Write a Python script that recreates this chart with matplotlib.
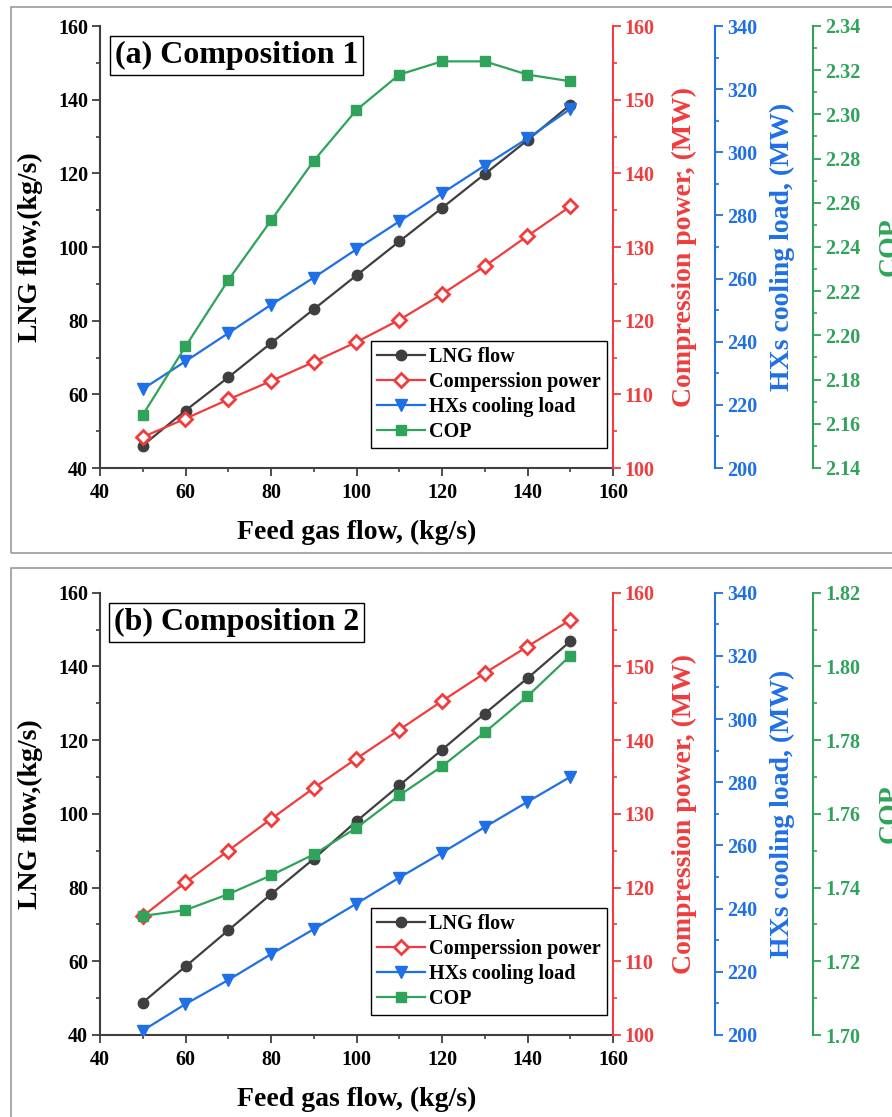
import matplotlib
matplotlib.use('Agg')
import matplotlib.pyplot as plt
from matplotlib.ticker import MultipleLocator, FormatStrFormatter
from matplotlib.patches import Rectangle

plt.rcParams['font.family'] = ['Liberation Serif', 'DejaVu Serif']
plt.rcParams['font.weight'] = 'bold'
plt.rcParams['axes.labelweight'] = 'bold'

# ---------------- data ----------------
feed = [50, 60, 70, 80, 90, 100, 110, 120, 130, 140, 150]

lng_a = [46.1, 55.6, 64.6, 73.9, 83.1, 92.3, 101.5, 110.6, 119.8, 129.0, 138.6]
power_a = [104.2, 106.7, 109.3, 111.8, 114.4, 117.1, 120.1, 123.6, 127.4, 131.5, 135.5]
hx_a = [225.0, 233.8, 242.7, 251.7, 260.3, 269.3, 278.1, 287.0, 295.8, 304.4, 313.7]
cop_a = [2.164, 2.195, 2.225, 2.252, 2.279, 2.302, 2.318, 2.324, 2.324, 2.318, 2.315]

lng_b = [48.8, 58.6, 68.4, 78.2, 87.8, 98.0, 107.7, 117.4, 127.2, 136.8, 146.8]
power_b = [116.1, 120.7, 125.0, 129.3, 133.5, 137.5, 141.4, 145.3, 149.1, 152.7, 156.3]
hx_b = [201.4, 209.8, 217.4, 225.6, 233.5, 241.6, 249.8, 257.7, 265.8, 273.8, 281.7]
cop_b = [1.7323, 1.7339, 1.7382, 1.7433, 1.749, 1.7562, 1.765, 1.7729, 1.7821, 1.7919, 1.8029]

titles = ['(a) Composition 1', '(b) Composition 2']
series_labels = ['LNG flow', 'Comperssion power', 'HXs cooling load', 'COP']
x_label = 'Feed gas flow, (kg/s)'
y_labels = ['LNG flow,(kg/s)', 'Compression power, (MW)', 'HXs cooling load, (MW)', 'COP']
cop_limits = [(2.14, 2.34), (1.70, 1.82)]

# ---------------- style ----------------
W, H = 892, 1117
GRAY = '#3f3f3f'
RED = '#f03c3c'
BLUE = '#1f6fe6'
GREEN = '#2fa35a'
TICK_FS = 14.5
LABEL_FS = 20

fig = plt.figure(figsize=(W / 100, H / 100), dpi=100)


def fx(px):
    return px / W


def fy(py):
    return 1 - py / H


# outer panel frames
for (top, bot) in [(7.3, 552.7), (567.7, 1140)]:
    fig.patches.append(Rectangle((fx(10.7), fy(bot)), 1.2, (bot - top) / H,
                                 transform=fig.transFigure, fill=False,
                                 ec='#9a9a9a', lw=1.2, zorder=0))

panel_data = [
    (lng_a, power_a, hx_a, cop_a),
    (lng_b, power_b, hx_b, cop_b),
]
panel_pos = [(26, 468), (592.7, 1035)]

for i, ((lng, power, hx, cop), (top, bot)) in enumerate(zip(panel_data, panel_pos)):
    ax = fig.add_axes([fx(100), fy(bot), (613 - 100) / W, (bot - top) / H])
    ax2 = ax.twinx()
    ax3 = ax.twinx()
    ax4 = ax.twinx()
    ax3.spines['right'].set_position(('axes', 1.199))
    ax4.spines['right'].set_position(('axes', 1.390))

    ax.spines['top'].set_visible(False)
    ax.spines['right'].set_visible(False)
    for s in ['left', 'bottom']:
        ax.spines[s].set_color(GRAY)
        ax.spines[s].set_linewidth(1.5)
    for a, c in [(ax2, RED), (ax3, BLUE), (ax4, GREEN)]:
        for s in ['top', 'left', 'bottom']:
            a.spines[s].set_visible(False)
        a.spines['right'].set_color(c)
        a.spines['right'].set_linewidth(1.5)

    ax.set_xlim(40, 160)
    ax.set_ylim(40, 160)
    ax2.set_ylim(100, 160)
    ax3.set_ylim(200, 340)
    ax4.set_ylim(*cop_limits[i])

    ax.xaxis.set_major_locator(MultipleLocator(20))
    ax.xaxis.set_minor_locator(MultipleLocator(10))
    ax.yaxis.set_major_locator(MultipleLocator(20))
    ax.yaxis.set_minor_locator(MultipleLocator(10))
    ax2.yaxis.set_major_locator(MultipleLocator(10))
    ax2.yaxis.set_minor_locator(MultipleLocator(5))
    ax3.yaxis.set_major_locator(MultipleLocator(20))
    ax3.yaxis.set_minor_locator(MultipleLocator(10))
    ax4.yaxis.set_major_locator(MultipleLocator(0.02))
    ax4.yaxis.set_minor_locator(MultipleLocator(0.01))
    ax4.yaxis.set_major_formatter(FormatStrFormatter('%.2f'))

    ax.tick_params(axis='both', which='major', direction='out', length=5.5,
                   width=1.3, labelsize=TICK_FS, color=GRAY, labelcolor='black')
    ax.tick_params(axis='both', which='minor', direction='out', length=3,
                   width=1.2, color=GRAY)
    ax.tick_params(axis='y', which='major', pad=3)
    ax.tick_params(axis='x', which='major', pad=5)
    for a, c in [(ax2, RED), (ax3, BLUE), (ax4, GREEN)]:
        a.tick_params(axis='y', which='major', direction='out', length=5.5,
                      width=1.3, labelsize=TICK_FS, colors=c, pad=3)
        a.tick_params(axis='y', which='minor', direction='out', length=3,
                      width=1.2, colors=c)

    l1, = ax.plot(feed, lng, '-o', color=GRAY, ms=7.5, lw=1.6,
                  label=series_labels[0])
    l2, = ax2.plot(feed, power, '-D', color=RED, mfc='white', mec=RED,
                   mew=2.0, ms=7.5, lw=1.6, label=series_labels[1])
    l3, = ax3.plot(feed, hx, '-v', color=BLUE, ms=9, lw=1.6,
                   label=series_labels[2])
    l4, = ax4.plot(feed, cop, '-s', color=GREEN, ms=7, lw=1.6,
                   label=series_labels[3])

    ax.set_xlabel(x_label, fontsize=LABEL_FS)
    ax.xaxis.set_label_coords(0.5, -0.118)
    ax.set_ylabel(y_labels[0], fontsize=LABEL_FS)
    ax.yaxis.set_label_coords(-0.1105, 0.5)
    ax2.set_ylabel(y_labels[1], fontsize=LABEL_FS, color=RED)
    ax2.yaxis.set_label_coords(1.1144, 0.5)
    ax3.set_ylabel(y_labels[2], fontsize=LABEL_FS, color=BLUE)
    ax3.yaxis.set_label_coords(1.306, 0.5)
    ax4.set_ylabel(y_labels[3], fontsize=LABEL_FS, color=GREEN)
    ax4.yaxis.set_label_coords(1.5166, 0.5)

    ax4.text(0.266, 0.933, titles[i], transform=ax.transAxes, fontsize=23,
             fontweight='bold', ha='center', va='center',
             bbox=dict(boxstyle='square,pad=0.15', fc='white', ec='black', lw=1.0))

    leg = ax4.legend(handles=[l1, l2, l3, l4], loc='lower right',
                     bbox_to_anchor=(0.988, 0.045), bbox_transform=ax.transAxes,
                     borderaxespad=0, fontsize=TICK_FS, fancybox=False,
                     framealpha=1, edgecolor='black', handlelength=2.4,
                     handletextpad=0.2, labelspacing=0.25, borderpad=0.3)
    leg.get_frame().set_linewidth(1.0)

fig.savefig('out.png', dpi=100)
